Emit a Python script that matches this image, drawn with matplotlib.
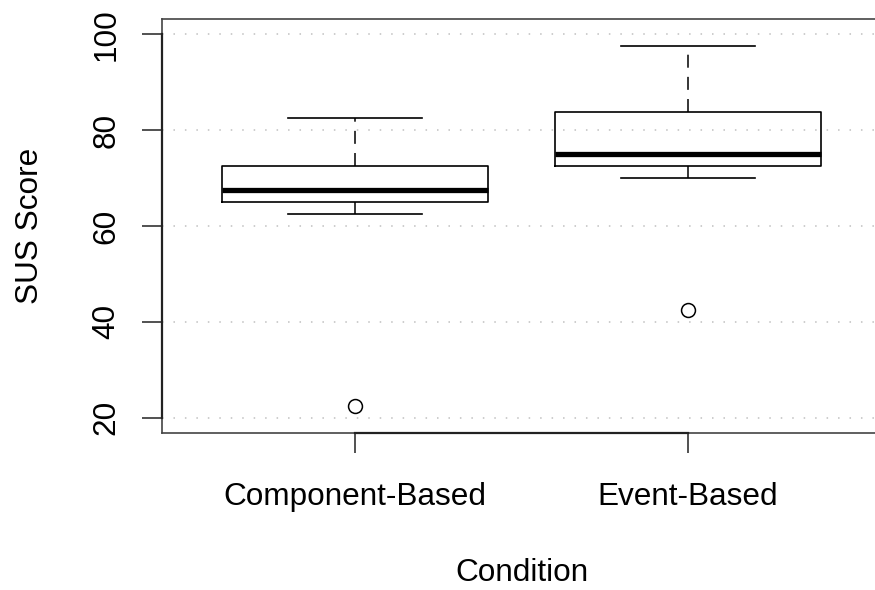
import matplotlib
matplotlib.use("Agg")
import matplotlib.pyplot as plt

# summary stats
conditions = ["Component-Based", "Event-Based"]
whisker_low = [62.5, 70.0]
q1 = [65.0, 72.5]
median = [67.5, 75.0]
q3 = [72.5, 83.75]
whisker_high = [82.5, 97.5]
outliers = [[22.5], [42.5]]
yticks = [20, 40, 60, 80, 100]

plt.rcParams['font.family'] = ['Liberation Sans', 'DejaVu Sans']
fs = 22.7

fig = plt.figure(figsize=(8.75, 5.9), dpi=100)
W, H = 875, 590
ax = fig.add_axes([162 / W, (H - 433) / H, 719 / W, 414 / H])

stats = []
for i, name in enumerate(conditions):
    stats.append(dict(label=name, whislo=whisker_low[i], q1=q1[i], med=median[i],
                      q3=q3[i], whishi=whisker_high[i], fliers=outliers[i]))

positions = list(range(1, len(conditions) + 1))

# dotted horizontal grid first
for y in yticks:
    ax.axhline(y, color='#c0c0c0', lw=1.1, linestyle=(0, (1, 6.5)), zorder=0)

ax.bxp(stats, positions=positions, widths=0.8,
       boxprops=dict(color='black', lw=1.2),
       medianprops=dict(color='black', lw=3.8, solid_capstyle='butt'),
       whiskerprops=dict(color='black', lw=1.1, linestyle=(0, (8.5, 6))),
       capprops=dict(color='black', lw=1.2),
       flierprops=dict(marker='o', markersize=10, markerfacecolor='none',
                       markeredgecolor='black', markeredgewidth=1.1))

ax.set_xlim(0.42, 2.58)
ax.set_ylim(16.8, 103.2)

ax.set_xticks(positions)
ax.set_xticklabels(conditions, fontsize=fs)
ax.set_yticks(yticks)
ax.set_yticklabels([str(v) for v in yticks], fontsize=fs, rotation=90, va='center')
ax.tick_params(axis='both', length=14.4, width=1.1, color='#222222')
ax.tick_params(axis='x', pad=21)
ax.tick_params(axis='y', pad=15)

for s in ax.spines.values():
    s.set_color('#444444')
    s.set_linewidth(1.2)

# R-style axis lines spanning the tick range
ax.plot([positions[0], positions[-1]], [16.8, 16.8], color='#222222', lw=1.6,
        clip_on=False, zorder=5)
ax.plot([0.42, 0.42], [yticks[0], yticks[-1]], color='#222222', lw=1.6,
        clip_on=False, zorder=5)

ax.set_xlabel("Condition", fontsize=fs, labelpad=33)
ax.set_ylabel("SUS Score", fontsize=fs, labelpad=33)

fig.savefig("out.png", dpi=100)
